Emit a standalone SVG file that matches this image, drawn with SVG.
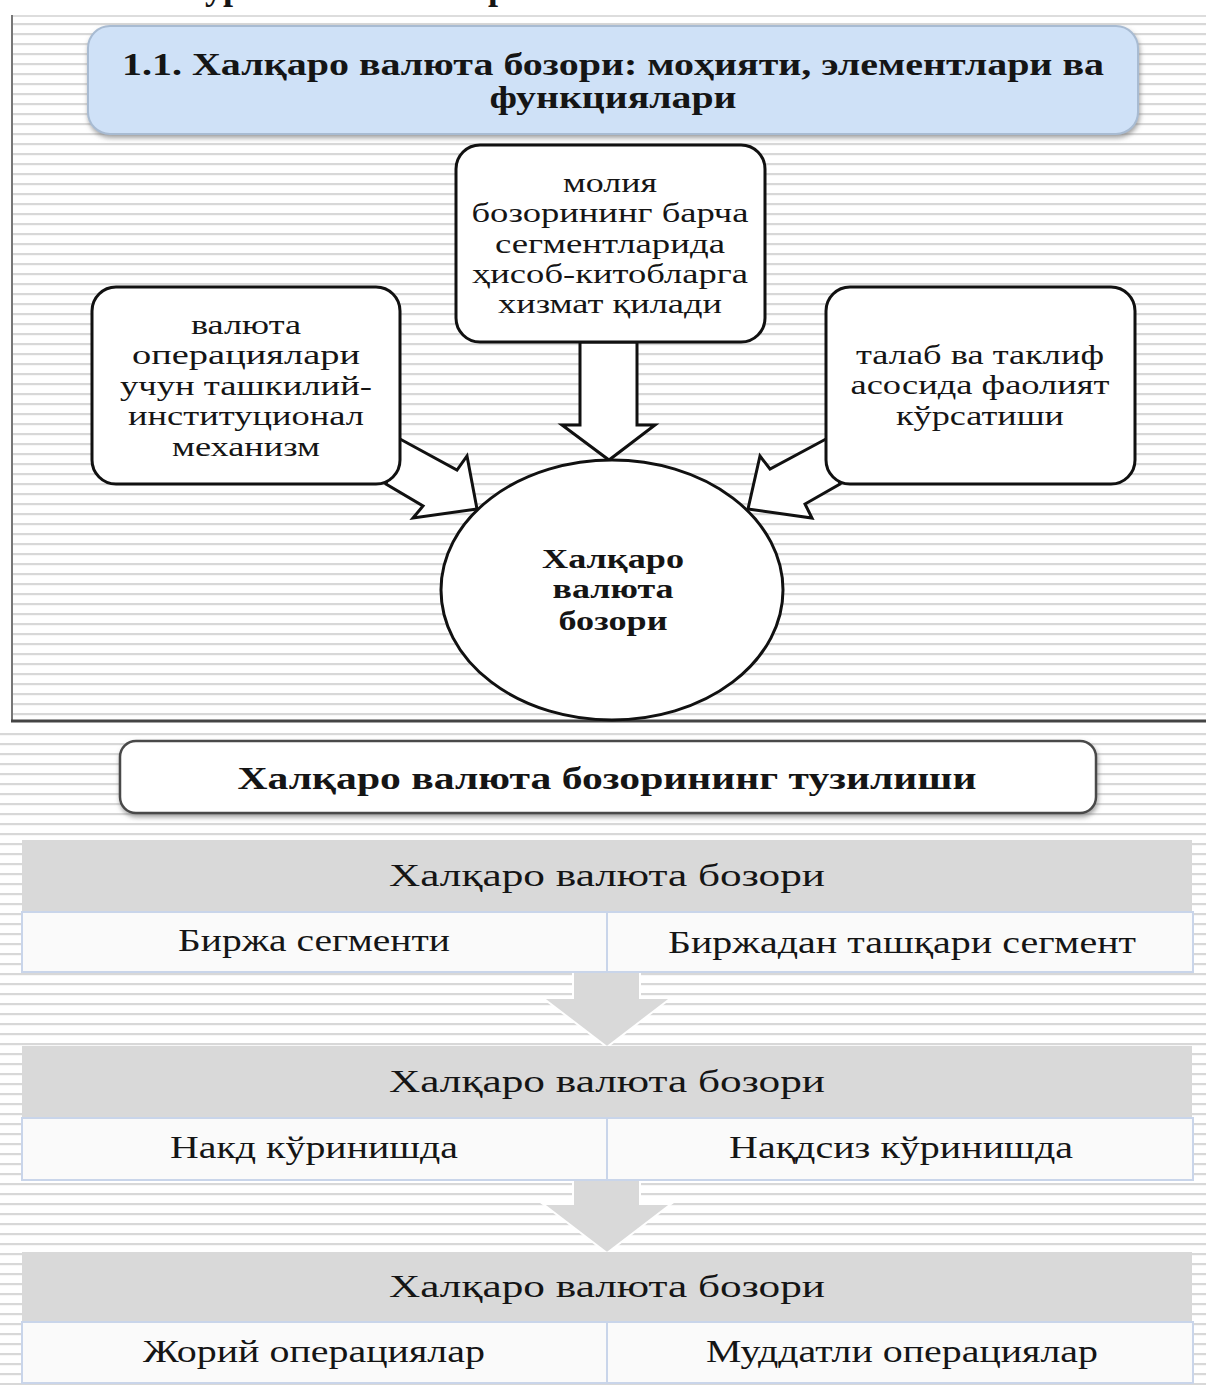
<svg xmlns="http://www.w3.org/2000/svg" width="1206" height="1385" viewBox="0 0 1206 1385">
  <defs>
    <pattern id="hlines" x="0" y="0" width="20" height="10" patternUnits="userSpaceOnUse">
      <rect x="0" y="0" width="20" height="10" fill="#ffffff"/>
      <rect x="0" y="3" width="20" height="2.2" fill="#d8d8d8"/>
    </pattern>
    <filter id="shadow" x="-10%" y="-20%" width="120%" height="150%">
      <feDropShadow dx="1" dy="3" stdDeviation="2.5" flood-color="#7a7a7a" flood-opacity="0.7"/>
    </filter>
    <style>
      .serif { font-family: "Liberation Serif", "Times New Roman", serif; fill: #151515; }
      .b { font-weight: bold; }
      .box { fill: #ffffff; stroke: #111111; stroke-width: 3; }
      .arrow { fill: #ffffff; stroke: #111111; stroke-width: 3; stroke-linejoin: miter; }
      .hdr { fill: #d9d9d9; }
      .cell { fill: #fafafa; stroke: #c9d5ea; stroke-width: 2; }
      .garrow { fill: #d9d9d9; stroke: #ffffff; stroke-width: 2; }
      .t-box { font-size: 28px; text-anchor: middle; }
      .t-tab { font-size: 32px; text-anchor: middle; }
    </style>
  </defs>

  <rect x="0" y="0" width="1206" height="1385" fill="#ffffff"/>

  <!-- cut-off heading fragments at top edge -->
  <g id="top-fragment">
    <text class="serif b" x="205" y="-1" font-size="36">ур</text>
    <text class="serif b" x="488" y="-1" font-size="36">р</text>
  </g>

  <!-- background hatching -->
  <rect x="13" y="17" width="1193" height="703" fill="url(#hlines)"/>
  <rect x="0" y="726" width="1206" height="659" fill="url(#hlines)"/>

  <!-- frame of upper section -->
  <g id="frame">
    <line x1="13" y1="16" x2="1206" y2="16" stroke="#dddddd" stroke-width="2"/>
    <line x1="12" y1="15" x2="12" y2="722" stroke="#777777" stroke-width="2"/>
    <line x1="11" y1="721" x2="1206" y2="721" stroke="#444444" stroke-width="3"/>
  </g>

  <!-- title -->
  <g id="title">
    <rect x="88" y="26" width="1050" height="108" rx="22" fill="#cfe1f7" stroke="#a8bbd2" stroke-width="2" filter="url(#shadow)"/>
    <text class="serif b" x="613" y="75" font-size="31" text-anchor="middle" textLength="982" lengthAdjust="spacingAndGlyphs">1.1. Халқаро валюта бозори: моҳияти, элементлари ва</text>
    <text class="serif b" x="613" y="108" font-size="31" text-anchor="middle" textLength="247" lengthAdjust="spacingAndGlyphs">функциялари</text>
  </g>

  <!-- connectors (block arrows) -->
  <g id="connectors">
    <polygon class="arrow" points="580,342 580,425 562,425 609,460 655,425 637,425 637,342"/>
    <polygon class="arrow" points="400,439 457,470 467,456 477,509 413,518 423,506 386,484"/>
    <polygon class="arrow" points="826,439 770,469 760,456 748,509 812,518 805,504 840,484"/>
  </g>

  <!-- top center node -->
  <g id="node-settlements">
    <rect class="box" x="456" y="145" width="309" height="197" rx="24"/>
    <text class="serif t-box" x="610" y="192" textLength="94" lengthAdjust="spacingAndGlyphs">молия</text>
    <text class="serif t-box" x="610" y="222" textLength="277" lengthAdjust="spacingAndGlyphs">бозорининг барча</text>
    <text class="serif t-box" x="610" y="253" textLength="230" lengthAdjust="spacingAndGlyphs">сегментларида</text>
    <text class="serif t-box" x="610" y="283" textLength="276" lengthAdjust="spacingAndGlyphs">ҳисоб-китобларга</text>
    <text class="serif t-box" x="610" y="313" textLength="224" lengthAdjust="spacingAndGlyphs">хизмат қилади</text>
  </g>

  <!-- left node -->
  <g id="node-mechanism">
    <rect class="box" x="92" y="287" width="308" height="197" rx="24"/>
    <text class="serif t-box" x="246" y="334" textLength="110" lengthAdjust="spacingAndGlyphs">валюта</text>
    <text class="serif t-box" x="246" y="364" textLength="228" lengthAdjust="spacingAndGlyphs">операциялари</text>
    <text class="serif t-box" x="246" y="395" textLength="252" lengthAdjust="spacingAndGlyphs">учун ташкилий-</text>
    <text class="serif t-box" x="246" y="425" textLength="236" lengthAdjust="spacingAndGlyphs">институционал</text>
    <text class="serif t-box" x="246" y="456" textLength="148" lengthAdjust="spacingAndGlyphs">механизм</text>
  </g>

  <!-- right node -->
  <g id="node-supply-demand">
    <rect class="box" x="826" y="287" width="309" height="197" rx="24"/>
    <text class="serif t-box" x="980" y="364" textLength="248" lengthAdjust="spacingAndGlyphs">талаб ва таклиф</text>
    <text class="serif t-box" x="980" y="394" textLength="259" lengthAdjust="spacingAndGlyphs">асосида фаолият</text>
    <text class="serif t-box" x="980" y="425" textLength="168" lengthAdjust="spacingAndGlyphs">кўрсатиши</text>
  </g>

  <!-- center circle -->
  <g id="node-market">
    <ellipse class="box" cx="612" cy="590" rx="171" ry="130"/>
    <text class="serif b t-box" x="613" y="568" textLength="142" lengthAdjust="spacingAndGlyphs">Халқаро</text>
    <text class="serif b t-box" x="613" y="598" textLength="121" lengthAdjust="spacingAndGlyphs">валюта</text>
    <text class="serif b t-box" x="613" y="630" textLength="109" lengthAdjust="spacingAndGlyphs">бозори</text>
  </g>

  <!-- structure title -->
  <g id="structure-title">
    <rect x="120" y="741" width="976" height="72" rx="16" fill="#ffffff" stroke="#4a4a4a" stroke-width="2.5" filter="url(#shadow)"/>
    <text class="serif b" x="607" y="789" font-size="32" text-anchor="middle" textLength="739" lengthAdjust="spacingAndGlyphs">Халқаро валюта бозорининг тузилиши</text>
  </g>

  <!-- grey down arrows between tables -->
  <g id="table-arrows">
    <polygon class="garrow" points="573,972 573,998 543,998 607,1047 671,998 640,998 640,972"/>
    <polygon class="garrow" points="573,1180 573,1204 543,1204 607,1253 671,1204 640,1204 640,1180"/>
  </g>

  <!-- table 1 -->
  <g id="table-exchange">
    <rect class="hdr" x="22" y="840" width="1170" height="72"/>
    <text class="serif t-tab" x="607" y="886" font-size="34" textLength="436" lengthAdjust="spacingAndGlyphs">Халқаро валюта бозори</text>
    <rect class="cell" x="22" y="912" width="585" height="60"/>
    <rect class="cell" x="607" y="912" width="586" height="60"/>
    <text class="serif t-tab" x="314" y="951" font-size="30" textLength="272" lengthAdjust="spacingAndGlyphs">Биржа сегменти</text>
    <text class="serif t-tab" x="902" y="953" font-size="30" textLength="468" lengthAdjust="spacingAndGlyphs">Биржадан ташқари сегмент</text>
  </g>

  <!-- table 2 -->
  <g id="table-cash">
    <rect class="hdr" x="22" y="1046" width="1170" height="72"/>
    <text class="serif t-tab" x="607" y="1092" font-size="34" textLength="436" lengthAdjust="spacingAndGlyphs">Халқаро валюта бозори</text>
    <rect class="cell" x="22" y="1118" width="585" height="62"/>
    <rect class="cell" x="607" y="1118" width="586" height="62"/>
    <text class="serif t-tab" x="314" y="1158" font-size="30" textLength="288" lengthAdjust="spacingAndGlyphs">Накд кўринишда</text>
    <text class="serif t-tab" x="901" y="1158" font-size="30" textLength="344" lengthAdjust="spacingAndGlyphs">Нақдсиз кўринишда</text>
  </g>

  <!-- table 3 -->
  <g id="table-terms">
    <rect class="hdr" x="22" y="1252" width="1170" height="70"/>
    <text class="serif t-tab" x="607" y="1297" font-size="34" textLength="436" lengthAdjust="spacingAndGlyphs">Халқаро валюта бозори</text>
    <rect class="cell" x="22" y="1322" width="585" height="61"/>
    <rect class="cell" x="607" y="1322" width="586" height="61"/>
    <text class="serif t-tab" x="314" y="1362" font-size="30" textLength="342" lengthAdjust="spacingAndGlyphs">Жорий операциялар</text>
    <text class="serif t-tab" x="902" y="1362" font-size="30" textLength="392" lengthAdjust="spacingAndGlyphs">Муддатли операциялар</text>
  </g>
</svg>
